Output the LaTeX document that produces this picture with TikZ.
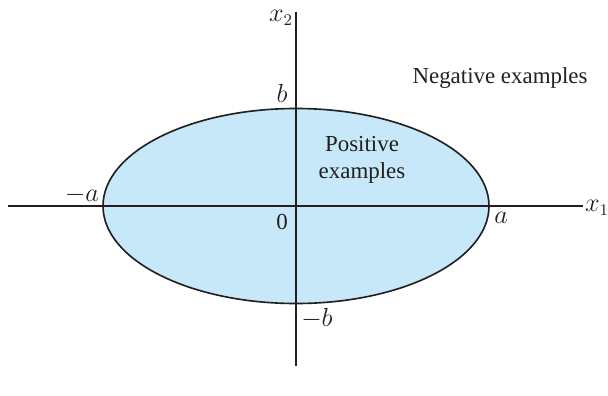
\documentclass[tikz,border=0pt]{standalone}
\usepackage{fontspec}
\setmainfont{Liberation Serif}
\usepackage{xcolor}
\usepackage{tikz}
\usetikzlibrary{positioning}
\definecolor{PosFill}{HTML}{C6E8F8}
\definecolor{Ink}    {HTML}{231F20}

\begin{document}
\begin{tikzpicture}[x=0.55pt, y=-0.55pt,
    axis/.style={Ink, line width=0.6pt},
    lab/.style={font=\fontsize{12.6}{15}\selectfont, text=Ink, inner sep=0pt},
    mlab/.style={font=\fontsize{13.5}{15}\selectfont, text=Ink, inner sep=0pt}]
      \useasboundingbox (0,0) rectangle (608,395);
      % ── origin and axis end points ───────────────────────────────────────────
      \coordinate (O)  at (296,206);
      \coordinate (xw) at (8,206);
      \coordinate (xe) at (583,206);
      \coordinate (yn) at (296,12);
      \coordinate (ys) at (296,366);
      % ── region of positive examples ──────────────────────────────────────────
      \filldraw[fill=PosFill, draw=Ink, line width=0.9pt]
        (O) ellipse [x radius=193, y radius=97.5];
      % ── axes ─────────────────────────────────────────────────────────────────
      \draw[axis] (xw) -- (xe);
      \draw[axis] (yn) -- (ys);
      % ── axis labels ──────────────────────────────────────────────────────────
      \node[mlab] (x1lab) at (597,208) {$x_1$};
      \node[mlab] (x2lab) at (281,18)  {$x_2$};
      % ── intercepts ───────────────────────────────────────────────────────────
      \foreach \n/\p/\t in {ma/{82,195}/{$-a$}, pa/{501,218}/{$a$},
                            pb/{282,93}/{$b$}, mb/{317,318}/{$-b$}} {
        \node[mlab] (\n) at (\p) {\t};
      }
      \node[lab] (zero) at (282,222) {0};
      % ── class labels ─────────────────────────────────────────────────────────
      \node[lab, align=center] (pos) at (362,160) {Positive\\examples};
      \node[lab] (neg) at (500,78) {Negative examples};
    \end{tikzpicture}
\end{document}
